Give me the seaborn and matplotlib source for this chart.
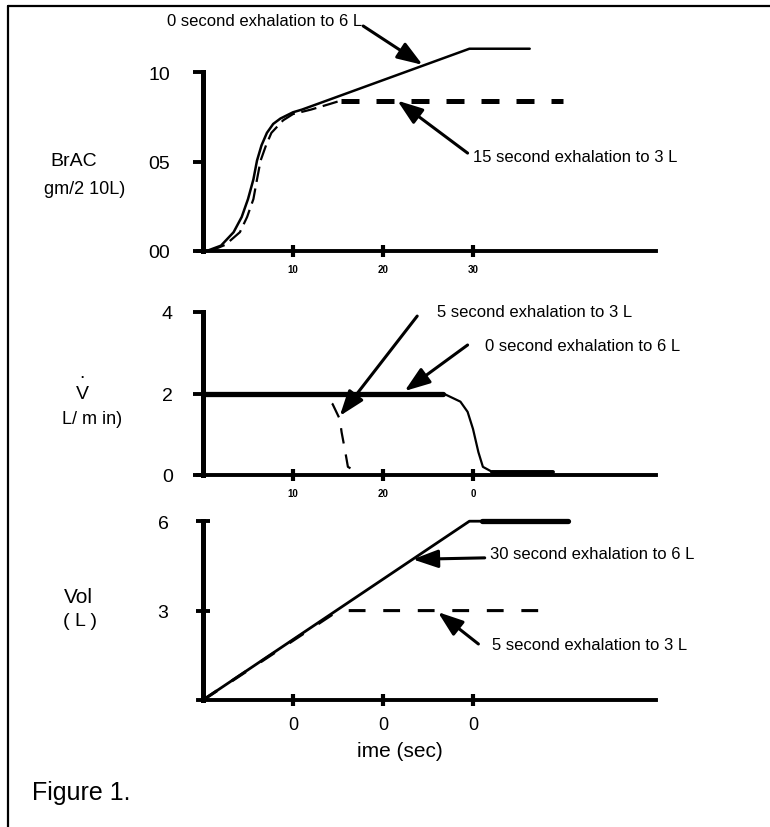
import matplotlib
matplotlib.use("Agg")
import matplotlib.pyplot as plt
import seaborn as sns
from matplotlib.lines import Line2D
from matplotlib.ticker import FixedLocator

# BrAC, flow and volume against time
brac_solid_t = [0.4, 2.0, 3.4, 4.3, 5.0, 5.6, 6.0, 6.5, 7.1, 7.8, 8.6, 10.0, 11.0, 29.6, 36.3]
brac_solid_v = [0.0, 0.3, 1.05, 1.9, 2.9, 4.0, 5.05, 5.9, 6.6, 7.1, 7.4, 7.75, 7.9, 11.3, 11.3]
brac_dash_t = [0.8, 2.5, 4.1, 4.9, 5.6, 6.0, 6.4, 7.0, 7.6, 8.9, 10.0, 12.0, 14.0, 15.3, 40.0]
brac_dash_v = [0.0, 0.35, 1.05, 1.9, 2.9, 4.0, 5.05, 5.9, 6.6, 7.3, 7.65, 7.9, 8.2, 8.4, 8.4]

flow_solid_t = [0, 26.7, 28.6, 29.4, 30.0, 30.6, 31.1, 32.1, 38.9]
flow_solid_v = [2, 2, 1.8, 1.55, 1.13, 0.56, 0.2, 0.08, 0.08]
flow_dash_t = [0, 13.3, 14.4, 15.2, 15.4, 15.8, 16.1, 16.9]
flow_dash_v = [2, 2, 1.74, 1.37, 1.05, 0.58, 0.2, 0.1]

vol_solid_t = [0, 29.6, 31.0, 40.6]
vol_solid_v = [0, 6, 6, 6]
vol_dash_t = [0, 15.0, 38.8]
vol_dash_v = [0, 3, 3]

time_ticks = [10, 20, 30]
brac_xlabels = ["10", "20", "30"]
flow_xlabels = ["10", "20", "0"]
vol_xlabels = ["0", "0", "0"]
brac_yticks = [0, 5, 10]
brac_ylabels = ["00", "05", "10"]
flow_yticks = [0, 2, 4]
flow_ylabels = ["0", "2", "4"]
vol_yticks = [3, 6]
vol_ylabels = ["3", "6"]

W, H = 770, 828
X0, PX_PER_SEC = 203, 9.0

sns.set_style("white")
plt.rcParams["font.family"] = ["Liberation Sans", "DejaVu Sans"]

fig = plt.figure(figsize=(7.7, 8.28), dpi=100)


def make_axes(top, bottom, y0, px_per_unit):
    # axes box in pixels, limits chosen so data 0 sits on the drawn axis lines
    left, right = 190, 700
    ax = fig.add_axes([left / W, 1 - bottom / H, (right - left) / W, (bottom - top) / H])
    ax.set_xlim((left - X0) / PX_PER_SEC, (right - X0) / PX_PER_SEC)
    ax.set_ylim((y0 - bottom) / px_per_unit, (y0 - top) / px_per_unit)
    ax.set_facecolor("none")
    for s in ["top", "right"]:
        ax.spines[s].set_visible(False)
    ax.spines["left"].set_position(("data", 0))
    ax.spines["bottom"].set_position(("data", 0))
    ax.spines["left"].set_linewidth(3.6)
    ax.spines["bottom"].set_linewidth(2.8)
    ax.spines["left"].set_color("black")
    ax.spines["bottom"].set_color("black")
    ax.spines["bottom"].set_bounds((198 - X0) / PX_PER_SEC, (656 - X0) / PX_PER_SEC)
    ax.set_xticks(time_ticks)
    ax.tick_params(axis="x", bottom=True, direction="inout", length=8, width=3,
                   color="black", labelcolor="black")
    ax.tick_params(axis="y", left=True, direction="out", length=7, width=2.8,
                   color="black", labelcolor="black")
    ax.grid(False)
    return ax


def arrow(ax, tip, tail):
    ax.annotate("", xy=tip, xytext=tail,
                arrowprops=dict(arrowstyle="-|>,head_length=0.7,head_width=0.25",
                                color="black", lw=2.2, mutation_scale=22,
                                shrinkA=0, shrinkB=0))


ann_kw = dict(fontsize=12, color="black", va="center", ha="left")

# ---------------- BrAC panel
ax1 = make_axes(30, 265, 252, 17.9)
sns.lineplot(x=brac_solid_t, y=brac_solid_v, ax=ax1, color="black", linewidth=1.8,
             sort=False, estimator=None)
sns.lineplot(x=brac_dash_t[:14], y=brac_dash_v[:14], ax=ax1, color="black", linewidth=1.6,
             sort=False, estimator=None, linestyle=(0, (7, 3)))
sns.lineplot(x=brac_dash_t[13:], y=brac_dash_v[13:], ax=ax1, color="black", linewidth=3.6,
             sort=False, estimator=None, linestyle=(0, (3.6, 3.4)))
ax1.spines["left"].set_bounds(0, 10)
ax1.set_yticks(brac_yticks)
ax1.set_yticklabels(brac_ylabels, fontsize=14)
ax1.yaxis.set_minor_locator(FixedLocator([10]))
ax1.tick_params(axis="y", which="minor", left=True, direction="inout", length=10, width=2.8, color="black")
ax1.tick_params(axis="y", pad=16.8)
ax1.set_xticklabels(brac_xlabels, fontsize=7, fontweight="bold")
ax1.tick_params(axis="x", pad=5.4)
ax1.text(-4.0, 12.85, "0 second exhalation to 6 L", **ann_kw)
arrow(ax1, (24.4, 10.4), (17.8, 12.57))
ax1.text(30.0, 5.3, "15 second exhalation to 3 L", **ann_kw)
arrow(ax1, (21.6, 8.4), (29.4, 5.47))

# ---------------- flow panel
ax2 = make_axes(300, 490, 476, 40.75)
sns.lineplot(x=flow_solid_t, y=flow_solid_v, ax=ax2, color="black", linewidth=1.6,
             sort=False, estimator=None)
sns.lineplot(x=flow_solid_t[:2], y=flow_solid_v[:2], ax=ax2, color="black", linewidth=3.8,
             sort=False, estimator=None)
sns.lineplot(x=flow_solid_t[-2:], y=flow_solid_v[-2:], ax=ax2, color="black", linewidth=2.8,
             sort=False, estimator=None)
sns.lineplot(x=flow_dash_t, y=flow_dash_v, ax=ax2, color="black", linewidth=1.6,
             sort=False, estimator=None, linestyle=(0, (7, 5)))
ax2.spines["left"].set_bounds(0, 4)
ax2.set_yticks(flow_yticks)
ax2.set_yticklabels(flow_ylabels, fontsize=14)
ax2.yaxis.set_minor_locator(FixedLocator([4]))
ax2.tick_params(axis="y", which="minor", left=True, direction="inout", length=10, width=2.8, color="black")
ax2.tick_params(axis="y", pad=14.6)
ax2.set_xticklabels(flow_xlabels, fontsize=7, fontweight="bold")
ax2.tick_params(axis="x", pad=5.4)
ax2.text(26.0, 4.02, "5 second exhalation to 3 L", **ann_kw)
arrow(ax2, (15.2, 1.45), (23.8, 3.9))
ax2.text(31.3, 3.17, "0 second exhalation to 6 L", **ann_kw)
arrow(ax2, (22.4, 2.06), (29.4, 3.19))

# ---------------- volume panel
ax3 = make_axes(510, 715, 701, 29.8)
sns.lineplot(x=vol_solid_t, y=vol_solid_v, ax=ax3, color="black", linewidth=2.0,
             sort=False, estimator=None)
sns.lineplot(x=vol_solid_t[2:], y=vol_solid_v[2:], ax=ax3, color="black", linewidth=3.8,
             sort=False, estimator=None)
sns.lineplot(x=vol_dash_t, y=vol_dash_v, ax=ax3, color="black", linewidth=2.2,
             sort=False, estimator=None, linestyle=(0, (5.5, 5.8)))
ax3.spines["left"].set_bounds(0, 6)
ax3.set_yticks(vol_yticks)
ax3.set_yticklabels(vol_ylabels, fontsize=14)
ax3.tick_params(axis="y", direction="inout", length=10, pad=19.8)
ax3.set_xticklabels(vol_xlabels, fontsize=13)
ax3.tick_params(axis="x", pad=7.5)
ax3.text(31.9, 4.93, "30 second exhalation to 6 L", **ann_kw)
arrow(ax3, (23.3, 4.72), (31.3, 4.77))
ax3.text(32.1, 1.85, "5 second exhalation to 3 L", **ann_kw)
arrow(ax3, (26.1, 2.95), (30.6, 1.88))
ax3.set_xlabel("ime (sec)", fontsize=15, color="black")
ax3.xaxis.set_label_coords((400 - 190) / 510, (715 - 752) / 205)
ax3.xaxis.label.set_va("center")


# ---------------- side labels, in pixel positions
def ftext(px, py, s, **kw):
    fig.text(px / W, 1 - py / H, s, color="black", **kw)


ftext(74, 162, "BrAC", fontsize=14, ha="center", va="center")
ftext(85, 190, "gm/2 10L)", fontsize=13, ha="center", va="center")
ftext(82, 395, "V", fontsize=14, ha="center", va="center")
ftext(82, 378, ".", fontsize=14, ha="center", va="baseline")
ftext(92, 420, "L/ m in)", fontsize=13, ha="center", va="center")
ftext(78, 598, "Vol", fontsize=15, ha="center", va="center")
ftext(80, 622, "( L )", fontsize=14, ha="center", va="center")
ftext(32, 793, "Figure 1.", fontsize=18, ha="left", va="center")

# frame lines of the scanned page (top and left only)
fig.add_artist(Line2D([8 / W, 1], [1 - 7 / H, 1 - 7 / H], color="black", lw=1.6))
fig.add_artist(Line2D([8 / W, 8 / W], [0, 1 - 7 / H], color="black", lw=1.6))

fig.savefig("out.png", dpi=100)
